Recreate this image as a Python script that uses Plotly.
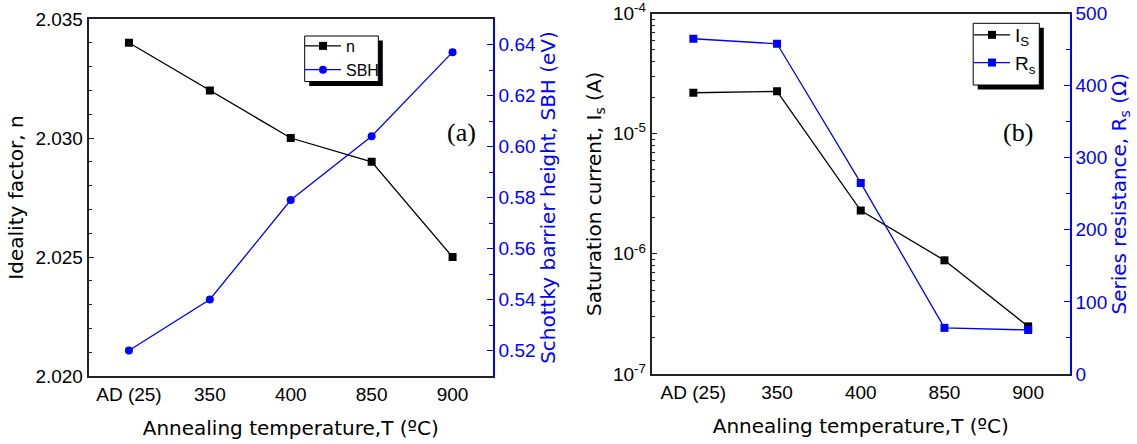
import plotly.graph_objects as go

# ---------------- data ----------------
categories = ["AD (25)", "350", "400", "850", "900"]
ideality_n = [2.034, 2.032, 2.030, 2.029, 2.025]
sbh_ev = [0.520, 0.540, 0.579, 0.604, 0.637]
sat_current = [2.19e-5, 2.25e-5, 2.29e-6, 8.83e-7, 2.49e-7]
series_res = [465, 458, 265, 64, 61]

n_ticks = [2.020, 2.025, 2.030, 2.035]
sbh_ticks = [0.52, 0.54, 0.56, 0.58, 0.60, 0.62, 0.64]
is_ticks = [1e-7, 1e-6, 1e-5, 1e-4]
is_ticktext = ["10<sup>-7</sup>", "10<sup>-6</sup>", "10<sup>-5</sup>", "10<sup>-4</sup>"]
is_minor = [k * 10.0 ** e for e in (-7, -6, -5) for k in range(2, 10)]
rs_ticks = [0, 100, 200, 300, 400, 500]

# ---------------- layout helpers (window pixel -> paper) ----------------
W, H = 1137, 444
def px(x):
    return x / W
def py(y):
    return 1 - y / H

BLACK = "#000000"
BLUE = "#0000FF"
AXC = "#222222"
FONT = "Liberation Sans, Arial, sans-serif"
TFONT = "DejaVu Sans, Liberation Sans, sans-serif"
TICKSIZE = 19
TITLESIZE = 20

fig = go.Figure()

fig.add_trace(go.Scatter(
    x=categories, y=ideality_n, name="n", mode="lines+markers",
    line=dict(color=BLACK, width=1.3),
    marker=dict(symbol="square", size=8, color=BLACK),
    xaxis="x", yaxis="y", legend="legend"))
fig.add_trace(go.Scatter(
    x=categories, y=sbh_ev, name="SBH", mode="lines+markers",
    line=dict(color=BLUE, width=1.3),
    marker=dict(symbol="circle", size=8, color=BLUE),
    xaxis="x", yaxis="y2", legend="legend"))
fig.add_trace(go.Scatter(
    x=categories, y=sat_current, name="I<sub>S</sub>", mode="lines+markers",
    line=dict(color=BLACK, width=1.3),
    marker=dict(symbol="square", size=8, color=BLACK),
    xaxis="x2", yaxis="y3", legend="legend2"))
fig.add_trace(go.Scatter(
    x=categories, y=series_res, name="R<sub>s</sub>", mode="lines+markers",
    line=dict(color=BLUE, width=1.3),
    marker=dict(symbol="square", size=8, color=BLUE),
    xaxis="x2", yaxis="y4", legend="legend2"))

common_x = dict(type="category", range=[-0.5, 4.5], showline=True, linecolor=AXC,
                linewidth=1.5, mirror=True, ticks="", showgrid=False, zeroline=False,
                tickfont=dict(size=TICKSIZE, color=BLACK), automargin=False)
xtitle = dict(text="Annealing temperature,T (ºC)",
              font=dict(family=TFONT, size=TITLESIZE, color=BLACK), standoff=17)

def ytitle(text, color, standoff=6):
    return dict(text=text, font=dict(family=TFONT, size=TITLESIZE, color=color), standoff=standoff)

fig.update_layout(
    width=W, height=H, autosize=False,
    margin=dict(l=0, r=0, t=0, b=0),
    paper_bgcolor="white", plot_bgcolor="white",
    font=dict(family=FONT, color=BLACK),
    showlegend=True,
    xaxis=dict(domain=[px(88.5), px(493)], anchor="y", title=xtitle, **common_x),
    yaxis=dict(domain=[py(376), py(19)], anchor="x", range=[2.020, 2.035],
               tickvals=n_ticks, tickformat=".3f", ticks="inside", ticklen=6, tickwidth=1.2,
               tickcolor=AXC, minor=dict(dtick=0.001, tick0=2.020, ticks="inside", ticklen=4,
                                          tickcolor=AXC, showgrid=False),
               showline=True, linecolor=AXC, linewidth=1.5, showgrid=False, zeroline=False,
               tickfont=dict(size=TICKSIZE, color=BLACK), automargin=False,
               ticklabeloverflow="allow",
               title=ytitle("Ideality factor, n", BLACK)),
    yaxis2=dict(overlaying="y", side="right", anchor="x", range=[0.51, 0.65],
                tickvals=sbh_ticks, tickformat=".2f", ticks="inside", ticklen=6, tickwidth=1.2,
                tickcolor=BLUE, minor=dict(dtick=0.01, tick0=0.51, ticks="inside", ticklen=4,
                                            tickcolor=BLUE, showgrid=False),
                showline=True, linecolor=BLUE, linewidth=1.5, showgrid=False, zeroline=False,
                tickfont=dict(size=TICKSIZE, color=BLUE), automargin=False,
                ticklabeloverflow="allow",
                title=ytitle("Schottky barrier height, SBH (eV)", BLUE)),
    xaxis2=dict(domain=[px(651.5), px(1070)], anchor="y3", title=xtitle, **common_x),
    yaxis3=dict(domain=[py(374), py(13.5)], anchor="x2", type="log", range=[-7, -4],
                tickvals=is_ticks, ticktext=is_ticktext, ticks="inside", ticklen=6, tickwidth=1.2,
                tickcolor=AXC, minor=dict(tickvals=is_minor, ticks="inside", ticklen=4,
                                           tickcolor=AXC, showgrid=False),
                showline=True, linecolor=AXC, linewidth=1.5, showgrid=False, zeroline=False,
                tickfont=dict(size=TICKSIZE, color=BLACK), automargin=False,
                ticklabeloverflow="allow",
                title=ytitle("Saturation current, I<sub>s</sub> (A)", BLACK)),
    yaxis4=dict(overlaying="y3", side="right", anchor="x2", range=[0, 500],
                tickvals=rs_ticks, ticks="inside", ticklen=6, tickwidth=1.2,
                tickcolor=BLUE, minor=dict(dtick=50, tick0=0, ticks="inside", ticklen=4,
                                            tickcolor=BLUE, showgrid=False),
                showline=True, linecolor=BLUE, linewidth=1.5, showgrid=False, zeroline=False,
                tickfont=dict(size=TICKSIZE, color=BLUE), automargin=False,
                ticklabeloverflow="allow",
                title=ytitle("Series resistance, R<sub>s</sub> (Ω)", BLUE)),
    legend=dict(x=px(300), y=py(29), xanchor="left", yanchor="top",
                bgcolor="rgba(0,0,0,0)", borderwidth=0, font=dict(size=16, color=BLACK),
                itemwidth=36, tracegroupgap=0),
    legend2=dict(x=px(969), y=py(16), xanchor="left", yanchor="top",
                 bgcolor="rgba(0,0,0,0)", borderwidth=0, font=dict(size=19, color=BLACK),
                 itemwidth=36, tracegroupgap=0),
)

# legend frames with drop shadows
def frame(x0, y0, x1, y1, off=4.5):
    return [
        dict(type="rect", xref="paper", yref="paper", layer="above",
             x0=px(x0 + off), x1=px(x1 + off), y0=py(y1 + off), y1=py(y0 + off),
             fillcolor=BLACK, line=dict(width=0)),
        dict(type="rect", xref="paper", yref="paper", layer="above",
             x0=px(x0), x1=px(x1), y0=py(y1), y1=py(y0),
             fillcolor="white", line=dict(color=BLACK, width=1)),
    ]

fig.update_layout(shapes=frame(304.7, 36, 378.3, 81.5) + frame(973.2, 23.3, 1039.3, 85))

SERIF = "Liberation Serif, Times New Roman, serif"
fig.add_annotation(text="(a)", x=px(461), y=py(116), xref="paper", yref="paper",
                   showarrow=False, font=dict(family=SERIF, size=26, color=BLACK))
fig.add_annotation(text="(b)", x=px(1035), y=py(116), xref="paper", yref="paper",
                   showarrow=False, font=dict(family=SERIF, size=26, color=BLACK))

fig.write_html("out.html",
               config={"displayModeBar": False},
               post_script="document.body.style.margin='0';document.body.style.overflow='hidden';")
